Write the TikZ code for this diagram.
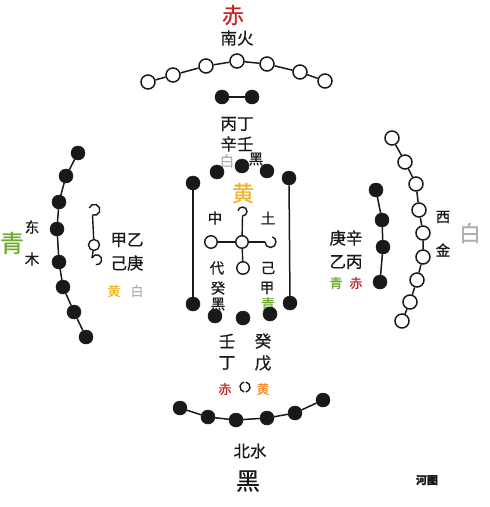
\documentclass[tikz,border=0pt]{standalone}
\usepackage{fontspec}
\setmainfont{Noto Sans CJK SC}[FakeBold=0.7]
\definecolor{cred}{RGB}{205,35,35}
\definecolor{cgreen}{RGB}{110,170,50}
\definecolor{cyel}{RGB}{240,180,40}
\definecolor{corange}{RGB}{240,140,40}
\definecolor{cgrey}{RGB}{175,175,175}
\definecolor{cink}{RGB}{25,25,25}
\tikzset{
  wdot/.style={circle,draw=cink,fill=white,line width=1.5pt,minimum size=14pt,inner sep=0pt},
  bdot/.style={circle,draw=cink,fill=cink,line width=0.5pt,minimum size=14pt,inner sep=0pt},
  sdot/.style={circle,draw=cink,fill=white,line width=1.4pt,minimum size=12.5pt,inner sep=0pt},
  chain/.style={draw=cink,line width=1.5pt},
  hook/.style={draw=cink,line width=1.4pt},
  lbl/.style={inner sep=0pt,text=cink,font=\fontsize{16.5}{16.5}\selectfont},
  sml/.style={inner sep=0pt,text=cink,font=\fontsize{14.5}{14.5}\selectfont},
  tiny/.style={inner sep=0pt,font=\fontsize{13}{13}\selectfont},
  big/.style={inner sep=0pt,font=\fontsize{22}{22}\selectfont},
}
\begin{document}
\begin{tikzpicture}[x=1pt,y=-1pt]
\useasboundingbox (0,0) rectangle (490,507);
% ---------- texts ----------
\node[big,text=cred] (tChi) at (233,15) {赤};
\node[lbl] (tNan) at (237,38) {南火};
\node[lbl] (tBing) at (237,124) {丙丁};
\node[lbl] (tXin) at (237,144) {辛壬};
\node[sml,text=cgrey] (tBai1) at (227,161) {白};
\node[sml] (tHei1) at (256,159) {黑};
\node[big,text=cyel] (tHuang) at (243,193) {黄};
\node[sml] (tZhong) at (215,218) {中};
\node[sml] (tTu) at (268,218) {土};
\node[sml] (tDai) at (217,268) {代};
\node[sml] (tJi1) at (268,268) {己};
\node[sml] (tGui1) at (218,288) {癸};
\node[sml] (tHei2) at (218,304) {黑};
\node[sml] (tJia1) at (267,288) {甲};
\node[sml,text=cgreen] (tQing1) at (268,304) {青};
\node[lbl] (tRen) at (227,341) {壬};
\node[lbl] (tDing) at (227,363) {丁};
\node[tiny,text=cred] (tChi2) at (225,389) {赤};
\node[lbl] (tGui2) at (263,341) {癸};
\node[lbl] (tWu) at (263,363) {戊};
\node[tiny,text=corange] (tHuang2) at (263,389) {黄};
\node[lbl] (tBei) at (250,451) {北水};
\node[big,font=\fontsize{24}{24}\selectfont,text=cink] (tHei3) at (248,481) {黑};
\node[sml] (tDong) at (32,227) {东};
\node[sml] (tMu) at (32,259) {木};
\node[big,font=\fontsize{24}{24}\selectfont,text=cgreen] (tQing2) at (12,243) {青};
\node[lbl] (tJiaYi) at (127,240) {甲乙};
\node[lbl] (tJiGeng) at (127,263) {己庚};
\node[tiny,text=cyel] (tHuang3) at (114,291) {黄};
\node[tiny,text=cgrey] (tBai2) at (137,291) {白};
\node[lbl] (tGengXin) at (346,238) {庚辛};
\node[lbl] (tYiBing) at (346,262) {乙丙};
\node[tiny,text=cgreen] (tQing3) at (336,283) {青};
\node[tiny,text=cred] (tChi3) at (356,283) {赤};
\node[sml] (tXi) at (443,217) {西};
\node[sml] (tJin) at (443,250) {金};
\node[big,text=cgrey] (tBai3) at (470,233) {白};
\node[inner sep=0pt,font=\fontsize{11}{11}\selectfont\bfseries,text=cink] (tHetu) at (427,480) {河图};
% ---------- top arc (south, white) ----------
\node[wdot] (s1) at (148,82) {};
\node[wdot] (s2) at (173,75) {};
\node[wdot] (s3) at (206,66) {};
\node[wdot] (s4) at (237,61) {};
\node[wdot] (s5) at (267,64) {};
\node[wdot] (s6) at (300,72) {};
\node[wdot] (s7) at (325,81) {};
\draw[chain] (s1)--(s2)--(s3)--(s4)--(s5)--(s6)--(s7);
% ---------- top pair (black) ----------
\node[bdot] (p1) at (222,97) {};
\node[bdot] (p2) at (252,97) {};
\draw[chain] (p1)--(p2);
% ---------- centre frame ----------
\node[bdot] (c1) at (193,183) {};
\node[bdot] (c2) at (217,172) {};
\node[bdot] (c3) at (242,166) {};
\node[bdot] (c4) at (267,171) {};
\node[bdot] (c5) at (289,178) {};
\node[bdot] (d1) at (193,304) {};
\node[bdot] (d2) at (215,316) {};
\node[bdot] (d3) at (243,318) {};
\node[bdot] (d4) at (270,314) {};
\node[bdot] (d5) at (290,303) {};
\draw[chain] (c1)--(d1);
\draw[chain] (c5)--(d5);
% ---------- centre cross ----------
\node[sdot] (cc) at (242,242) {};
\node[sdot] (cl) at (211,242) {};
\node[sdot] (cb) at (243,268) {};
\coordinate (ctop) at (242.5,216);
\coordinate (cright) at (265,242);
\draw[hook] (ctop) arc[start angle=90,end angle=-170,radius=4.5];
\draw[hook] (cright) arc[start angle=180,end angle=-70,radius=5.5];
\draw[hook] (ctop)--(cc);
\draw[hook] (cl)--(cc);
\draw[hook] (cc)--(cright);
\draw[hook] (cc)--(cb);
% ---------- lower small broken circle ----------
\draw[hook] (245,387) ++(100:5) arc[start angle=100,end angle=260,radius=5];
\draw[hook] (245,387) ++(-80:5) arc[start angle=-80,end angle=80,radius=5];
% ---------- bottom arc (north, black) ----------
\node[bdot] (n1) at (180,408) {};
\node[bdot] (n2) at (208,417) {};
\node[bdot] (n3) at (236,420) {};
\node[bdot] (n4) at (267,418) {};
\node[bdot] (n5) at (295,413) {};
\node[bdot] (n6) at (323,400) {};
\draw[chain] (n1)--(n2)--(n3)--(n4)--(n5)--(n6);
% ---------- left chain (east, black) ----------
\node[bdot] (e1) at (78,153) {};
\node[bdot] (e2) at (66,176) {};
\node[bdot] (e3) at (59,202) {};
\node[bdot] (e4) at (57,229) {};
\node[bdot] (e5) at (59,262) {};
\node[bdot] (e6) at (63,287) {};
\node[bdot] (e7) at (74,312) {};
\node[bdot] (e8) at (86,337) {};
\draw[chain] (e1)--(e2)--(e3)--(e4)--(e5)--(e6)--(e7)--(e8);
% ---------- left inner ----------
\node[sdot,minimum size=11pt] (li) at (94,245) {};
\coordinate (lt) at (92.5,215);
\coordinate (lb) at (92,258);
\draw[hook] (lt) arc[start angle=110,end angle=-160,radius=5.5];
\draw[hook] (lt)--(li);
\draw[hook] (li)--(lb);
\draw[hook] (lb) arc[start angle=200,end angle=460,radius=5];
% ---------- right outer (west, white) ----------
\node[wdot] (w1) at (392,138) {};
\node[wdot] (w2) at (405,162) {};
\node[wdot] (w3) at (416,184) {};
\node[wdot] (w4) at (419,210) {};
\node[wdot] (w5) at (423,233) {};
\node[wdot] (w6) at (423,257) {};
\node[wdot] (w7) at (417,280) {};
\node[wdot] (w8) at (410,302) {};
\node[wdot] (w9) at (402,321) {};
\draw[chain] (w1)--(w2)--(w3)--(w4)--(w5)--(w6)--(w7)--(w8)--(w9);
% ---------- right inner (black) ----------
\node[bdot] (r1) at (376,190) {};
\node[bdot] (r2) at (382,220) {};
\node[bdot] (r3) at (383,247) {};
\node[bdot] (r4) at (380,282) {};
\draw[chain] (r1)--(r2)--(r3)--(r4);
\end{tikzpicture}
\end{document}
